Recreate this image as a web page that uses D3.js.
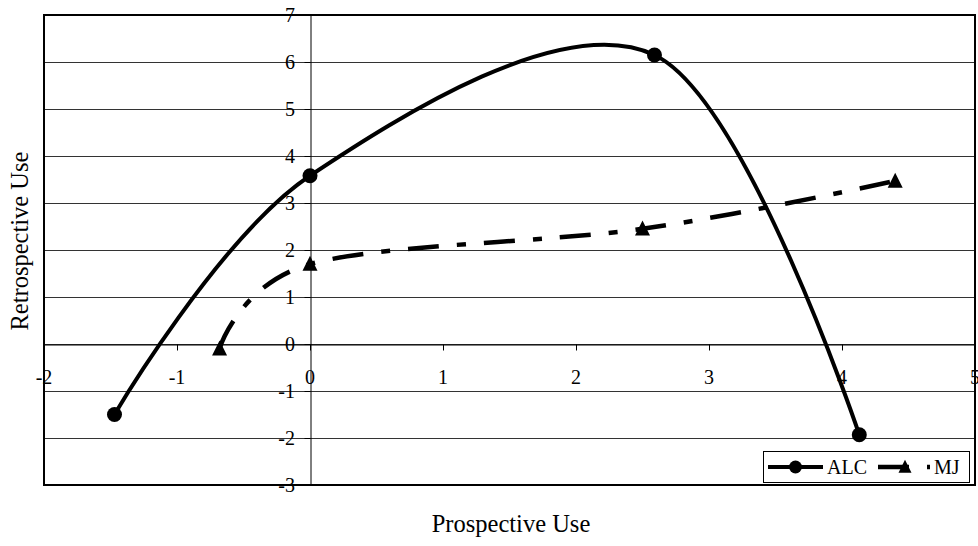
<!DOCTYPE html>
<html>
<head>
<meta charset="utf-8">
<script src="https://cdn.jsdelivr.net/npm/d3@7"></script>
<style>
  html, body { margin: 0; padding: 0; background: #fff; }
  svg { display: block; }
  svg text { font-family: "Liberation Serif", "Times New Roman", serif; fill: #000; }
</style>
</head>
<body>
<svg id="chart" width="978" height="546" font-family="Liberation Serif, Times New Roman, serif"></svg>
<script>
// ---- data ----
const seriesNames = ["ALC", "MJ"];
const alcX = [-1.47, 0, 2.59, 4.13];
const alcY = [-1.5, 3.58, 6.15, -1.93];
const mjX = [-0.68, 0, 2.5, 4.4];
const mjY = [-0.1, 1.7, 2.45, 3.47];
const xTicks = [-2, -1, 0, 1, 2, 3, 4, 5];
const yTicks = [-3, -2, -1, 0, 1, 2, 3, 4, 5, 6, 7];
const xTitle = "Prospective Use";
const yTitle = "Retrospective Use";

// ---- layout ----
const FONT = "Liberation Serif, Times New Roman, serif";
const svg = d3.select("#chart");
const L = 44, R = 975, T = 15, B = 485;
const x = d3.scaleLinear().domain([-2, 5]).range([L, R]);
const y = d3.scaleLinear().domain([-3, 7]).range([B, T]);

// gridlines
svg.append("g").selectAll("line").data(yTicks).join("line")
  .attr("x1", L).attr("x2", R)
  .attr("y1", d => Math.round(y(d)) + 0.5).attr("y2", d => Math.round(y(d)) + 0.5)
  .attr("stroke", "#333").attr("stroke-width", 1);

// plot border
svg.append("rect").attr("x", L).attr("y", T).attr("width", R - L).attr("height", B - T)
  .attr("fill", "none").attr("stroke", "#000").attr("stroke-width", 2);

// x axis at y=0 (ticks downward)
const xAxis = d3.axisBottom(x).tickValues(xTicks).tickSize(6).tickFormat("");
const gx = svg.append("g").attr("transform", `translate(0,${Math.round(y(0)) + 0.5})`).call(xAxis);
gx.select(".domain").attr("stroke", "#000");
gx.selectAll(".tick line").attr("stroke", "#000");

// y axis at x=0 (ticks left)
const yAxis = d3.axisLeft(y).tickValues(yTicks).tickSize(6).tickFormat("");
const gy = svg.append("g").attr("transform", `translate(${Math.round(x(0)) + 0.5},0)`).call(yAxis);
gy.select(".domain").attr("stroke", "#000");
gy.selectAll(".tick line").attr("stroke", "#000");

// tick labels
svg.append("g").selectAll("text").data(xTicks).join("text")
  .attr("x", d => x(d)).attr("y", 384)
  .attr("text-anchor", "middle").attr("font-size", 20).attr("font-family", FONT)
  .text(d => d);
svg.append("g").selectAll("text").data(yTicks).join("text")
  .attr("x", 295).attr("y", d => y(d) + 7)
  .attr("text-anchor", "end").attr("font-size", 20).attr("font-family", FONT)
  .text(d => d);

// axis titles
svg.append("text").attr("x", 511).attr("y", 532).attr("text-anchor", "middle")
  .attr("font-size", 24.5).attr("font-family", FONT).text(xTitle);
svg.append("text").attr("transform", "translate(28,241) rotate(-90)")
  .attr("text-anchor", "middle").attr("font-size", 24.5).attr("font-family", FONT).text(yTitle);

// series
const line = d3.line().x(d => x(d[0])).y(d => y(d[1])).curve(d3.curveCatmullRom.alpha(0));
const alc = alcX.map((v, i) => [v, alcY[i]]);
const mj = mjX.map((v, i) => [v, mjY[i]]);
const dashMJ = "31,18,9,18";

svg.append("path").datum(mj).attr("d", line)
  .attr("fill", "none").attr("stroke", "#000").attr("stroke-width", 4.5)
  .attr("stroke-dasharray", dashMJ);
svg.append("path").datum(alc).attr("d", line)
  .attr("fill", "none").attr("stroke", "#000").attr("stroke-width", 4);

const tri = s => `M0,${-s * 0.55}L${s / 2},${s * 0.45}L${-s / 2},${s * 0.45}Z`;
svg.append("g").selectAll("path").data(mj).join("path")
  .attr("transform", d => `translate(${x(d[0])},${y(d[1])})`)
  .attr("d", tri(15)).attr("fill", "#000");
svg.append("g").selectAll("circle").data(alc).join("circle")
  .attr("cx", d => x(d[0])).attr("cy", d => y(d[1])).attr("r", 7.5).attr("fill", "#000");

// legend
const lg = svg.append("g");
lg.append("rect").attr("x", 763.5).attr("y", 451.5).attr("width", 206).attr("height", 31)
  .attr("fill", "#fff").attr("stroke", "#000").attr("stroke-width", 1);
const ly = 467;
lg.append("line").attr("x1", 768).attr("x2", 823).attr("y1", ly).attr("y2", ly)
  .attr("stroke", "#000").attr("stroke-width", 4);
lg.append("circle").attr("cx", 795.5).attr("cy", ly).attr("r", 6.5).attr("fill", "#000");
lg.append("text").attr("x", 827).attr("y", ly + 7).attr("font-size", 20).attr("font-family", FONT).text(seriesNames[0]);
lg.append("line").attr("x1", 878).attr("x2", 930).attr("y1", ly).attr("y2", ly)
  .attr("stroke", "#000").attr("stroke-width", 4.5).attr("stroke-dasharray", dashMJ);
lg.append("path").attr("transform", `translate(905,${ly})`).attr("d", tri(13)).attr("fill", "#000");
lg.append("text").attr("x", 934).attr("y", ly + 7).attr("font-size", 20).attr("font-family", FONT).text(seriesNames[1]);
</script>
</body>
</html>
